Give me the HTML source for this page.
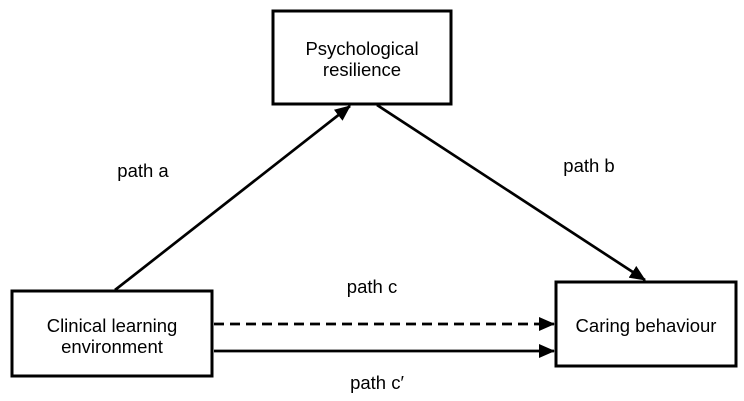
<!DOCTYPE html>
<html><head><style>
html,body{margin:0;padding:0;background:#fff;}
svg{display:block;}
text{font-family:"Liberation Sans",sans-serif;font-size:18.5px;fill:#000;}
</style></head><body>
<svg width="744" height="401" viewBox="0 0 744 401" xmlns="http://www.w3.org/2000/svg">
<defs>
<marker id="ar2" markerWidth="16" markerHeight="14" refX="15" refY="7" orient="auto" markerUnits="userSpaceOnUse">
<path d="M0,0 L16,7 L0,14 z" fill="#000"/>
</marker>
</defs>
<g fill="none" stroke="#000" stroke-width="3">
<rect x="273" y="11" width="178" height="93"/>
<rect x="12" y="291" width="200" height="85"/>
<rect x="556" y="282" width="180" height="84"/>
</g>
<g stroke="#000" stroke-width="2.7" fill="none">
<line x1="115" y1="290" x2="350" y2="106" marker-end="url(#ar2)"/>
<line x1="377" y1="105" x2="645" y2="280" marker-end="url(#ar2)"/>
<line x1="214" y1="324" x2="554" y2="324" stroke-dasharray="10,6" marker-end="url(#ar2)"/>
<line x1="214" y1="351" x2="554" y2="351" marker-end="url(#ar2)"/>
</g>
<text x="362" y="55" text-anchor="middle">Psychological</text>
<text x="362" y="76" text-anchor="middle">resilience</text>
<text x="112" y="332" text-anchor="middle">Clinical learning</text>
<text x="112" y="353" text-anchor="middle">environment</text>
<text x="646" y="332" text-anchor="middle">Caring behaviour</text>
<text x="143" y="177" text-anchor="middle">path a</text>
<text x="589" y="172" text-anchor="middle">path b</text>
<text x="372" y="293" text-anchor="middle">path c</text>
<text x="377" y="389" text-anchor="middle">path c′</text>
</svg>
</body></html>
